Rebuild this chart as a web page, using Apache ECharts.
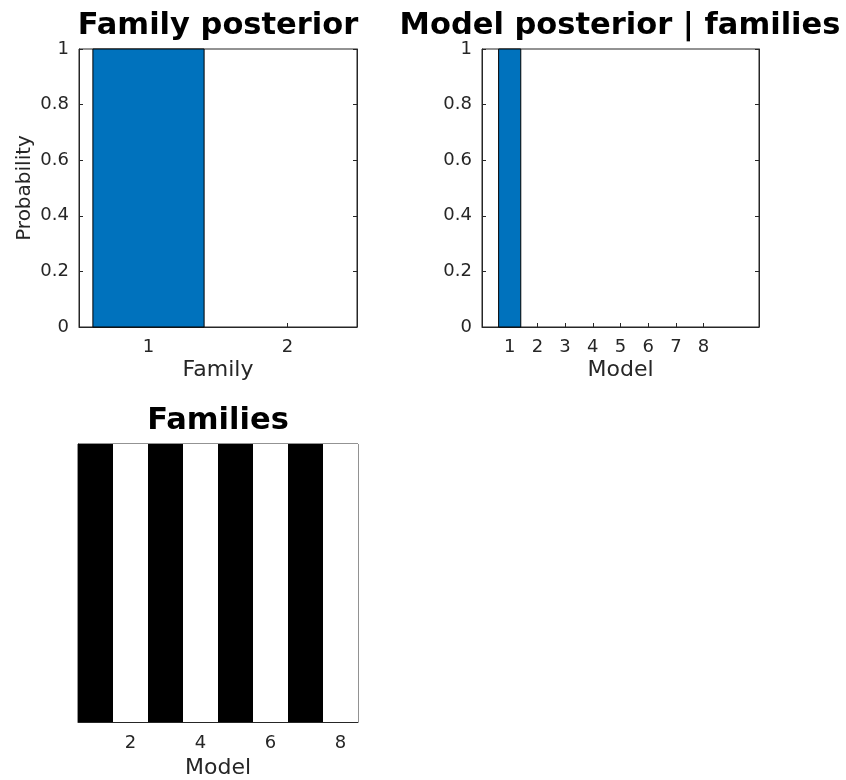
<!DOCTYPE html>
<html>
<head>
<meta charset="utf-8">
<script src="https://cdn.jsdelivr.net/npm/echarts@6/dist/echarts.min.js"></script>
<style>
  html, body { margin: 0; padding: 0; background: #fff; }
  #chart { width: 846px; height: 780px; }
</style>
</head>
<body>
<div id="chart"></div>
<script>
// Posterior over model families
const familyIds = [1, 2];
const familyPosterior = [1, 0];

// Posterior over models given families
const modelIds = [1, 2, 3, 4, 5, 6, 7, 8];
const modelPosterior = [1, 0, 0, 0, 0, 0, 0, 0];

// Family membership of each model (1 = black, 2 = white)
const modelFamilies = [1, 2, 1, 2, 1, 2, 1, 2];
const familiesTicks = [2, 4, 6, 8];

const probTicksLabel = 'Probability';
const FONT = 'DejaVu Sans';
const AX = '#262626';
const BAR_W = 0.8;

function barRenderer(color) {
  return function (params, api) {
    const x = api.value(0), y = api.value(1);
    if (!(y > 0)) return null;
    const p0 = api.coord([x - BAR_W / 2, 0]);
    const p1 = api.coord([x + BAR_W / 2, y]);
    return {
      type: 'rect',
      shape: { x: p0[0], y: p1[1], width: p1[0] - p0[0], height: p0[1] - p1[1] },
      style: { fill: color, stroke: '#000', lineWidth: 1 }
    };
  };
}

function cellRenderer(params, api) {
  const x = api.value(0), f = api.value(1);
  const p0 = api.coord([x - 0.5, 0]);
  const p1 = api.coord([x + 0.5, 1]);
  return {
    type: 'rect',
    shape: { x: p0[0], y: p1[1], width: p1[0] - p0[0], height: p0[1] - p1[1] },
    style: { fill: f === 1 ? '#000000' : '#ffffff' }
  };
}

const axisLabelStyle = { color: AX, fontFamily: FONT, fontSize: 18 };
const xNameStyle = { color: AX, fontFamily: FONT, fontSize: 22 };
const yNameStyle = { color: AX, fontFamily: FONT, fontSize: 20 };
const titleStyle = { fontFamily: FONT, fontSize: 30.5, fontWeight: 'bold', color: '#000' };

function probAxis(grid, withName) {
  return {
    type: 'value', gridIndex: grid, min: 0, max: 1, interval: 0.2,
    name: withName ? probTicksLabel : '', nameLocation: 'middle', nameGap: 44,
    nameTextStyle: yNameStyle,
    axisLine: { show: true, lineStyle: { color: AX } },
    axisTick: { show: true, inside: true, length: 4, lineStyle: { color: AX } },
    axisLabel: Object.assign({ margin: 10 }, axisLabelStyle),
    splitLine: { show: false }
  };
}
function rightTicks(grid) {
  return {
    type: 'value', gridIndex: grid, min: 0, max: 1, interval: 0.2, position: 'right',
    axisLine: { show: true, lineStyle: { color: AX } },
    axisTick: { show: true, inside: true, length: 4, lineStyle: { color: AX } },
    axisLabel: { show: false }, splitLine: { show: false }
  };
}

const chart = echarts.init(document.getElementById('chart'), null, { renderer: 'canvas' });
chart.setOption({
  backgroundColor: '#fff',
  animation: false,
  title: [
    { text: 'Family posterior', left: 218, top: 11, padding: 0, textAlign: 'center', textStyle: titleStyle },
    { text: 'Model posterior | families', left: 620, top: 11, padding: 0, textAlign: 'center', textStyle: titleStyle },
    { text: 'Families', left: 218, top: 406, padding: 0, textAlign: 'center', textStyle: titleStyle }
  ],
  grid: [
    { left: 79, top: 49, width: 278, height: 278, show: true, borderColor: AX, borderWidth: 1, backgroundColor: '#fff' },
    { left: 482, top: 49, width: 277, height: 278, show: true, borderColor: AX, borderWidth: 1, backgroundColor: '#fff' },
    { left: 78, top: 444, width: 280, height: 278, show: true, borderColor: AX, borderWidth: 1, backgroundColor: '#fff' }
  ],
  xAxis: [
    { type: 'value', gridIndex: 0, min: 0.5, max: 2.5,
      name: 'Family', nameLocation: 'middle', nameGap: 32, nameTextStyle: xNameStyle,
      axisLine: { show: true, lineStyle: { color: AX } },
      axisTick: { show: true, inside: true, length: 4, customValues: familyIds, lineStyle: { color: AX } },
      axisLabel: Object.assign({ customValues: familyIds, margin: 11 }, axisLabelStyle),
      splitLine: { show: false } },
    { type: 'value', gridIndex: 1, min: 0, max: 10,
      name: 'Model', nameLocation: 'middle', nameGap: 32, nameTextStyle: xNameStyle,
      axisLine: { show: true, lineStyle: { color: AX } },
      axisTick: { show: true, inside: true, length: 4, customValues: modelIds, lineStyle: { color: AX } },
      axisLabel: Object.assign({ customValues: modelIds, margin: 11 }, axisLabelStyle),
      splitLine: { show: false } },
    { type: 'value', gridIndex: 2, min: 0.5, max: 8.5,
      name: 'Model', nameLocation: 'middle', nameGap: 35, nameTextStyle: xNameStyle,
      axisLine: { show: true, lineStyle: { color: AX } },
      axisTick: { show: false },
      axisLabel: Object.assign({ customValues: familiesTicks, margin: 12 }, axisLabelStyle),
      splitLine: { show: false } }
  ],
  yAxis: [
    probAxis(0, true),
    probAxis(1, false),
    { type: 'value', gridIndex: 2, min: 0, max: 1,
      axisLine: { show: true, lineStyle: { color: AX } },
      axisTick: { show: false }, axisLabel: { show: false }, splitLine: { show: false } },
    rightTicks(0),
    rightTicks(1)
  ],
  series: [
    { type: 'custom', xAxisIndex: 0, yAxisIndex: 0,
      data: familyIds.map((f, i) => [f, familyPosterior[i]]),
      renderItem: barRenderer('#0072BD') },
    { type: 'custom', xAxisIndex: 1, yAxisIndex: 1,
      data: modelIds.map((m, i) => [m, modelPosterior[i]]),
      renderItem: barRenderer('#0072BD') },
    { type: 'custom', xAxisIndex: 2, yAxisIndex: 2,
      data: modelIds.map((m, i) => [m, modelFamilies[i]]),
      renderItem: cellRenderer }
  ]
});
</script>
</body>
</html>
